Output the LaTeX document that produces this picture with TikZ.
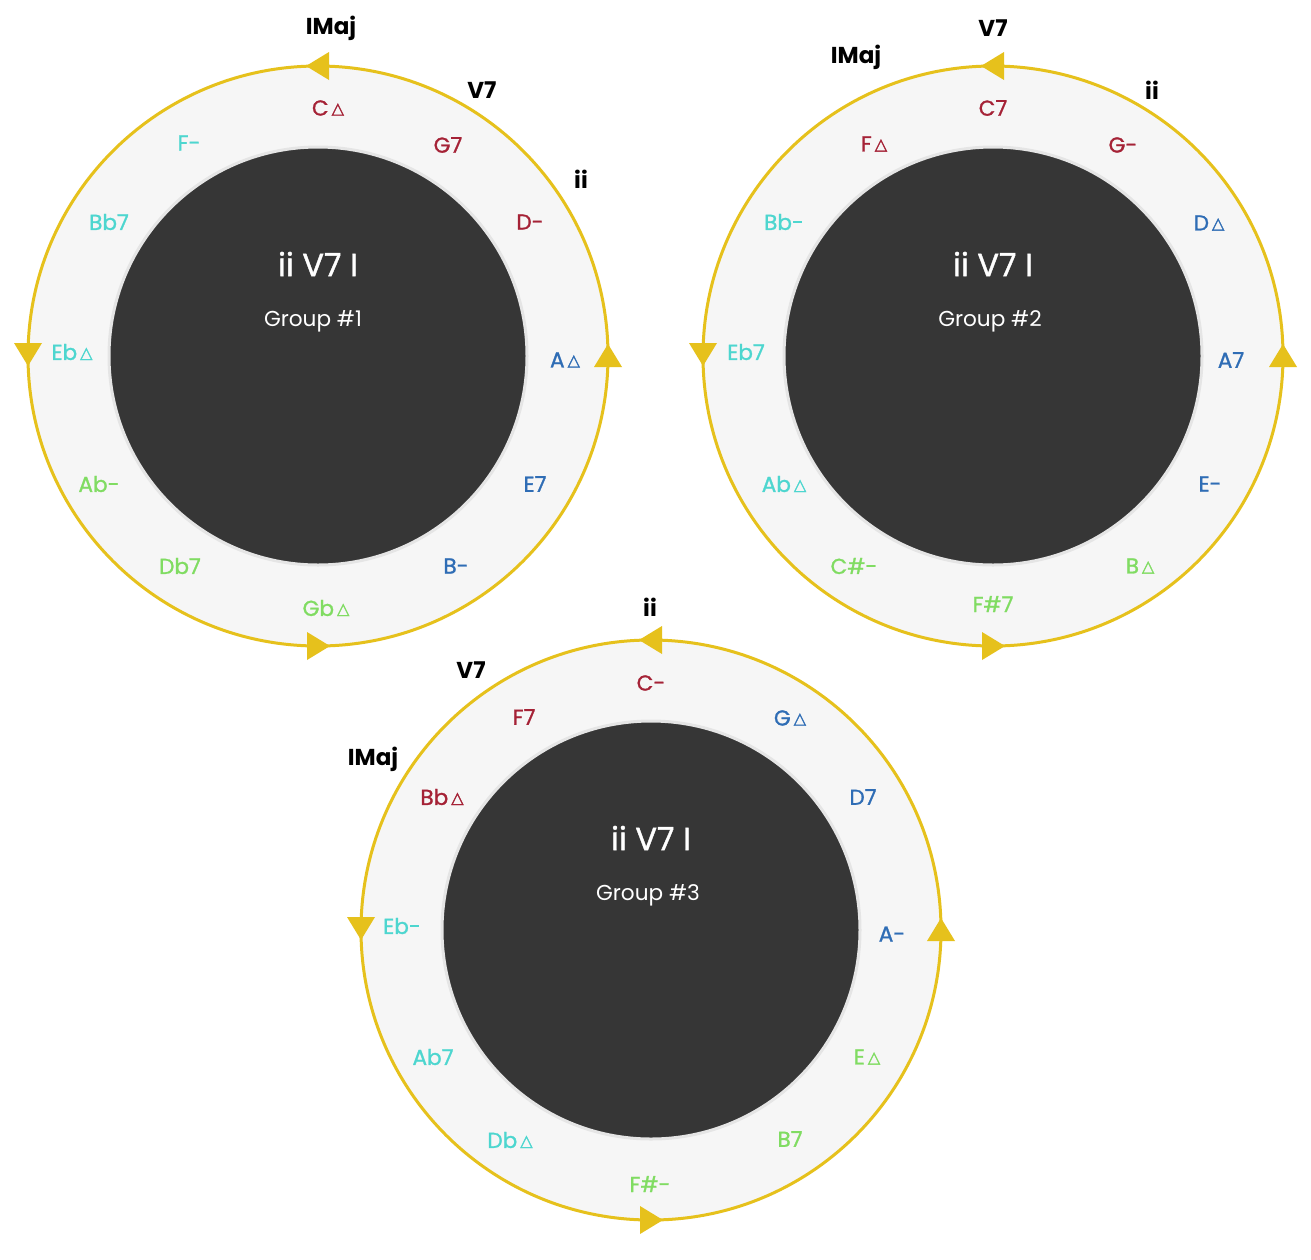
\documentclass[tikz,border=0pt]{standalone}
\usepackage{fontspec}
\setmainfont{Poppins}
\newfontfamily\medf[FakeBold=1.2]{Poppins}
\newfontfamily\symf[FakeBold=2]{DejaVu Sans}
\newcommand{\tri}{\hspace{1.5pt}\raisebox{0.9pt}{\symf\fontsize{8}{9}\selectfont △}}
\definecolor{cred}{HTML}{A52236}
\definecolor{cblue}{HTML}{2F6DB5}
\definecolor{ccyan}{HTML}{4DD6CF}
\definecolor{cgreen}{HTML}{80DC62}
\definecolor{ringyel}{HTML}{E6C11C}
\definecolor{ringfill}{HTML}{F6F6F6}
\definecolor{darkc}{HTML}{363636}
\tikzset{
  chord/.style={font=\medf\fontsize{10.8}{12}\selectfont, inner sep=0pt, anchor=center},
  roman/.style={font=\fontsize{11.5}{13}\selectfont\bfseries, text=black, inner sep=0pt},
  title/.style={font=\medf\fontsize{16}{18}\selectfont, text=white, inner sep=0pt},
  group/.style={font=\fontsize{10.8}{12}\selectfont, text=white, inner sep=0pt},
  ring/.style={draw=ringyel, line width=1.5pt, fill=ringfill},
  core/.style={draw=black!10, line width=1.5pt, fill=darkc},
  arrowtip/.style={fill=ringyel, draw=none}
}
\newcommand{\wheel}[3]{%
  \node[ring, circle, minimum size=290pt, inner sep=0pt] (#3ring) at (#1,#2) {};
  \node[core, circle, minimum size=209pt, inner sep=0pt] (#3core) at (#1,#2) {};
  \fill[arrowtip] ({#1-12},{#2-290}) -- ({#1+11},{#2-304}) -- ({#1+11},{#2-276}) -- cycle;
  \fill[arrowtip] ({#1-290},{#2+10}) -- ({#1-304},{#2-13}) -- ({#1-276},{#2-13}) -- cycle;
  \fill[arrowtip] ({#1+12},{#2+290}) -- ({#1-11},{#2+276}) -- ({#1-11},{#2+304}) -- cycle;
  \fill[arrowtip] ({#1+290},{#2-12}) -- ({#1+276},{#2+11}) -- ({#1+304},{#2+11}) -- cycle;
}
\begin{document}
\begin{tikzpicture}[x=0.5pt,y=-0.5pt]
\fill[white] (0,0) rectangle (1311,1259);
\useasboundingbox (0,0) rectangle (1311,1259);

% ---------- Wheel 1 ----------
\wheel{318}{356}{w1}
\node[chord, text=cred]   (w1a) at (328,108) {C\tri};
\node[chord, text=cred]   (w1b) at (448,145) {G7};
\node[chord, text=cred]   (w1c) at (530,222) {D-};
\node[chord, text=cblue]  (w1d) at (565,360) {A\tri};
\node[chord, text=cblue]  (w1e) at (535,484) {E7};
\node[chord, text=cblue]  (w1f) at (456,566) {B-};
\node[chord, text=cgreen] (w1g) at (326,608) {Gb\tri};
\node[chord, text=cgreen] (w1h) at (180,566) {Db7};
\node[chord, text=cgreen] (w1i) at (99,484) {Ab-};
\node[chord, text=ccyan]  (w1j) at (72,352) {Eb\tri};
\node[chord, text=ccyan]  (w1k) at (109,222) {Bb7};
\node[chord, text=ccyan]  (w1l) at (189,143) {F-};
\node[roman] (w1r1) at (331,28) {IMaj};
\node[roman] (w1r2) at (482,90) {V7};
\node[roman] (w1r3) at (581,179) {ii};
\node[title] (w1t) at (318,264) {ii V7 I};
\node[group] (w1g1) at (313,321) {Group \#1};

% ---------- Wheel 2 ----------
\wheel{993}{356}{w2}
\node[chord, text=cred]   (w2a) at (993,108) {C7};
\node[chord, text=cred]   (w2b) at (1123,145) {G-};
\node[chord, text=cblue]  (w2c) at (1209,223) {D\tri};
\node[chord, text=cblue]  (w2d) at (1231,360) {A7};
\node[chord, text=cblue]  (w2e) at (1210,484) {E-};
\node[chord, text=cgreen] (w2f) at (1140,566) {B\tri};
\node[chord, text=cgreen] (w2g) at (993,604) {F\#7};
\node[chord, text=cgreen] (w2h) at (854,566) {C\#-};
\node[chord, text=ccyan]  (w2i) at (784,484) {Ab\tri};
\node[chord, text=ccyan]  (w2j) at (746,352) {Eb7};
\node[chord, text=ccyan]  (w2k) at (784,222) {Bb-};
\node[chord, text=cred]   (w2l) at (874,144) {F\tri};
\node[roman] (w2r1) at (993,28) {V7};
\node[roman] (w2r2) at (856,57) {IMaj};
\node[roman] (w2r3) at (1152,90) {ii};
\node[title] (w2t) at (993,264) {ii V7 I};
\node[group] (w2g1) at (990,321) {Group \#2};

% ---------- Wheel 3 ----------
\wheel{651}{930}{w3}
\node[chord, text=cred]   (w3a) at (651,683) {C-};
\node[chord, text=cblue]  (w3b) at (790,718) {G\tri};
\node[chord, text=cblue]  (w3c) at (863,797) {D7};
\node[chord, text=cblue]  (w3d) at (892,934) {A-};
\node[chord, text=cgreen] (w3e) at (867,1057) {E\tri};
\node[chord, text=cgreen] (w3f) at (790,1139) {B7};
\node[chord, text=cgreen] (w3g) at (650,1184) {F\#-};
\node[chord, text=ccyan]  (w3h) at (510,1140) {Db\tri};
\node[chord, text=ccyan]  (w3i) at (433,1057) {Ab7};
\node[chord, text=ccyan]  (w3j) at (402,926) {Eb-};
\node[chord, text=cred]   (w3k) at (442,797) {Bb\tri};
\node[chord, text=cred]   (w3l) at (524,717) {F7};
\node[roman] (w3r1) at (650,607) {ii};
\node[roman] (w3r2) at (471,670) {V7};
\node[roman] (w3r3) at (373,759) {IMaj};
\node[title] (w3t) at (651,838) {ii V7 I};
\node[group] (w3g1) at (648,895) {Group \#3};
\end{tikzpicture}
\end{document}
